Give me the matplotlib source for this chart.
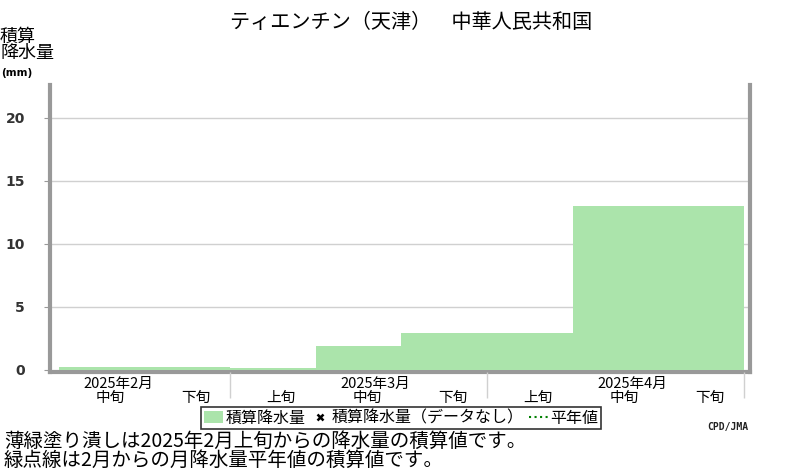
import matplotlib
matplotlib.use("Agg")
import matplotlib.pyplot as plt
from matplotlib.patches import Patch
from matplotlib.lines import Line2D

plt.rcParams['font.family'] = ['Noto Sans CJK JP', 'DejaVu Sans']

# data: dekad index 0 = 2月上旬 ... 8 = 4月下旬
dekad_start = [1, 2, 3, 4, 5, 6, 7, 8]
accum_mm = [0.2, 0.2, 0.12, 1.9, 2.95, 2.95, 13.0, 13.0]
dekad_labels = ['中旬', '下旬', '上旬', '中旬', '下旬', '上旬', '中旬', '下旬']
month_labels = ['2025年2月', '2025年3月', '2025年4月']
month_mid = [1, 4, 7]
month_bounds = [3, 6, 9]
yticks = [0, 5, 10, 15, 20]

green = '#abe4ab'
axis_gray = '#999999'
grid_gray = '#d0d0d0'

fig = plt.figure(figsize=(8, 4.7), dpi=100)
ax = fig.add_axes([50 / 800, 1 - 372 / 470, 700 / 800, 287 / 470])

ax.bar(dekad_start, accum_mm, width=1, align='edge', color=green,
       edgecolor='none', zorder=2)

ax.set_xlim(0.9, 9.07)
ax.set_ylim(-0.16, 22.6)

# y axis
ax.set_yticks(yticks)
ax.set_yticklabels([str(v) for v in yticks], fontsize=10, fontweight='bold',
                   color='#333333', family='DejaVu Sans')
ax.tick_params(axis='y', length=4, color=axis_gray, pad=14)
for v in yticks[1:]:
    ax.axhline(v, color=grid_gray, linewidth=1, zorder=1)

# x axis: month boundary ticks, labels as text
ax.set_xticks(month_bounds)
ax.set_xticklabels([])
ax.tick_params(axis='x', length=19, color=grid_gray, width=1)
for x, lab in zip(dekad_start, dekad_labels):
    ax.text(x + 0.6, -0.092, lab, transform=ax.get_xaxis_transform(),
            ha='center', va='center', fontsize=10.5)
for x, lab in zip(month_mid, month_labels):
    ax.text(x + 0.7, -0.04, lab, transform=ax.get_xaxis_transform(),
            ha='center', va='center', fontsize=10.5)

for s in ['left', 'right', 'bottom']:
    ax.spines[s].set_color(axis_gray)
    ax.spines[s].set_linewidth(3)
    ax.spines[s].set_zorder(1.5)
ax.spines['top'].set_visible(False)

# title and axis label
fig.text(411 / 800, 1 - 22 / 470, 'ティエンチン（天津）　中華人民共和国',
         ha='center', va='center', fontsize=14.5)
fig.text(0, 1 - 28 / 470, '積算\n降水量', ha='left', va='top',
         fontsize=13, linespacing=0.88)
fig.text(1 / 800, 1 - 73 / 470, '(mm)', ha='left', va='center',
         fontsize=7.5, fontweight='bold', family='DejaVu Sans')

# legend
handles = [
    Patch(facecolor=green, edgecolor='none', label='積算降水量'),
    Line2D([], [], linestyle='none', marker='x', color='black',
           markersize=5, markeredgewidth=1.8, label='積算降水量（データなし）'),
    Line2D([], [], linestyle=':', color='green', linewidth=1.5,
           label='平年値'),
]
leg = fig.legend(handles=handles, loc='center', ncol=3,
                 bbox_to_anchor=(401 / 800, 1 - 418 / 470),
                 fontsize=11.5, frameon=True, fancybox=False,
                 handlelength=1.2, handletextpad=0.15, columnspacing=0.3,
                 borderpad=0.15, borderaxespad=0)
leg.get_frame().set_edgecolor('black')
leg.get_frame().set_linewidth(1.2)

fig.text(748 / 800, 1 - 427 / 470, 'CPD/JMA', ha='right', va='center',
         fontsize=7, fontweight='bold', family='DejaVu Sans Mono',
         color='#222222')

fig.text(4 / 800, 1 - 441 / 470, '薄緑塗り潰しは2025年2月上旬からの降水量の積算値です。',
         ha='left', va='center', fontsize=14)
fig.text(4 / 800, 1 - 460 / 470, '緑点線は2月からの月降水量平年値の積算値です。',
         ha='left', va='center', fontsize=14)

fig.savefig('out.png', dpi=100)
